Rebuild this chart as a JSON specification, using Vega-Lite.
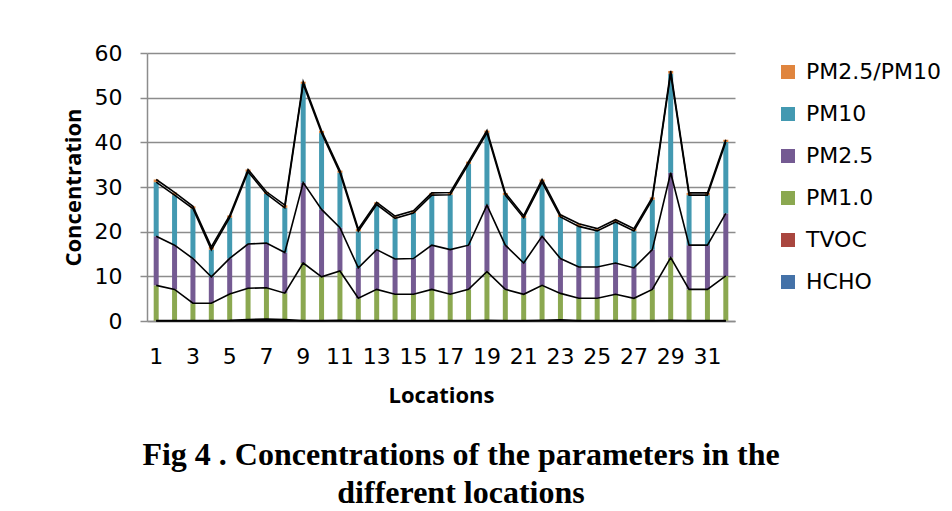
{
  "$schema": "https://vega.github.io/schema/vega-lite/v6.json",
  "width": 588,
  "height": 268,
  "autosize": {"type": "none"},
  "padding": {"left": 147, "top": 53, "right": 217, "bottom": 190},
  "background": "white",
  "title": {
    "text": ["Fig 4 . Concentrations of the parameters in the", "different locations"],
    "orient": "bottom", "anchor": "middle", "font": "Liberation Serif", "fontSize": 32,
    "fontWeight": "bold", "lineHeight": 38, "offset": 34, "dx": 20, "color": "#000000"
  },
  "datasets": {
    "order": [
      {"series": "HCHO", "k": 0}, {"series": "TVOC", "k": 1}, {"series": "PM1.0", "k": 2},
      {"series": "PM2.5", "k": 3}, {"series": "PM10", "k": 4}, {"series": "PM2.5/PM10", "k": 5}
    ]
  },
  "data": {"values": [
    {"loc":1,"series":"HCHO","value":0.03},{"loc":1,"series":"TVOC","value":0.05},{"loc":1,"series":"PM1.0","value":7.9},{"loc":1,"series":"PM2.5","value":11},{"loc":1,"series":"PM10","value":12.1},{"loc":1,"series":"PM2.5/PM10","value":0.6},
    {"loc":2,"series":"HCHO","value":0.03},{"loc":2,"series":"TVOC","value":0.05},{"loc":2,"series":"PM1.0","value":7.0},{"loc":2,"series":"PM2.5","value":9.9},{"loc":2,"series":"PM10","value":11.2},{"loc":2,"series":"PM2.5/PM10","value":0.6},
    {"loc":3,"series":"HCHO","value":0.03},{"loc":3,"series":"TVOC","value":0.05},{"loc":3,"series":"PM1.0","value":3.9},{"loc":3,"series":"PM2.5","value":10},{"loc":3,"series":"PM10","value":11.2},{"loc":3,"series":"PM2.5/PM10","value":0.5},
    {"loc":4,"series":"HCHO","value":0.03},{"loc":4,"series":"TVOC","value":0.05},{"loc":4,"series":"PM1.0","value":3.9},{"loc":4,"series":"PM2.5","value":5.9},{"loc":4,"series":"PM10","value":6.1},{"loc":4,"series":"PM2.5/PM10","value":0.6},
    {"loc":5,"series":"HCHO","value":0.03},{"loc":5,"series":"TVOC","value":0.1},{"loc":5,"series":"PM1.0","value":5.9},{"loc":5,"series":"PM2.5","value":8},{"loc":5,"series":"PM10","value":9.1},{"loc":5,"series":"PM2.5/PM10","value":0.5},
    {"loc":6,"series":"HCHO","value":0.03},{"loc":6,"series":"TVOC","value":0.3},{"loc":6,"series":"PM1.0","value":7.0},{"loc":6,"series":"PM2.5","value":9.9},{"loc":6,"series":"PM10","value":16.2},{"loc":6,"series":"PM2.5/PM10","value":0.5},
    {"loc":7,"series":"HCHO","value":0.03},{"loc":7,"series":"TVOC","value":0.4},{"loc":7,"series":"PM1.0","value":7.0},{"loc":7,"series":"PM2.5","value":10},{"loc":7,"series":"PM10","value":11},{"loc":7,"series":"PM2.5/PM10","value":0.5},
    {"loc":8,"series":"HCHO","value":0.03},{"loc":8,"series":"TVOC","value":0.3},{"loc":8,"series":"PM1.0","value":5.9},{"loc":8,"series":"PM2.5","value":9.1},{"loc":8,"series":"PM10","value":10},{"loc":8,"series":"PM2.5/PM10","value":0.6},
    {"loc":9,"series":"HCHO","value":0.03},{"loc":9,"series":"TVOC","value":0.05},{"loc":9,"series":"PM1.0","value":12.9},{"loc":9,"series":"PM2.5","value":18},{"loc":9,"series":"PM10","value":22.1},{"loc":9,"series":"PM2.5/PM10","value":0.5},
    {"loc":10,"series":"HCHO","value":0.03},{"loc":10,"series":"TVOC","value":0.05},{"loc":10,"series":"PM1.0","value":9.8},{"loc":10,"series":"PM2.5","value":15.1},{"loc":10,"series":"PM10","value":17.1},{"loc":10,"series":"PM2.5/PM10","value":0.5},
    {"loc":11,"series":"HCHO","value":0.03},{"loc":11,"series":"TVOC","value":0.15},{"loc":11,"series":"PM1.0","value":11.0},{"loc":11,"series":"PM2.5","value":9.7},{"loc":11,"series":"PM10","value":12.3},{"loc":11,"series":"PM2.5/PM10","value":0.5},
    {"loc":12,"series":"HCHO","value":0.03},{"loc":12,"series":"TVOC","value":0.05},{"loc":12,"series":"PM1.0","value":5.0},{"loc":12,"series":"PM2.5","value":6.8},{"loc":12,"series":"PM10","value":8.2},{"loc":12,"series":"PM2.5/PM10","value":0.5},
    {"loc":13,"series":"HCHO","value":0.03},{"loc":13,"series":"TVOC","value":0.05},{"loc":13,"series":"PM1.0","value":7.0},{"loc":13,"series":"PM2.5","value":8.9},{"loc":13,"series":"PM10","value":10.1},{"loc":13,"series":"PM2.5/PM10","value":0.5},
    {"loc":14,"series":"HCHO","value":0.03},{"loc":14,"series":"TVOC","value":0.05},{"loc":14,"series":"PM1.0","value":5.9},{"loc":14,"series":"PM2.5","value":7.9},{"loc":14,"series":"PM10","value":9.1},{"loc":14,"series":"PM2.5/PM10","value":0.5},
    {"loc":15,"series":"HCHO","value":0.03},{"loc":15,"series":"TVOC","value":0.05},{"loc":15,"series":"PM1.0","value":5.9},{"loc":15,"series":"PM2.5","value":8},{"loc":15,"series":"PM10","value":10.2},{"loc":15,"series":"PM2.5/PM10","value":0.5},
    {"loc":16,"series":"HCHO","value":0.03},{"loc":16,"series":"TVOC","value":0.05},{"loc":16,"series":"PM1.0","value":7.0},{"loc":16,"series":"PM2.5","value":9.9},{"loc":16,"series":"PM10","value":11.2},{"loc":16,"series":"PM2.5/PM10","value":0.5},
    {"loc":17,"series":"HCHO","value":0.03},{"loc":17,"series":"TVOC","value":0.05},{"loc":17,"series":"PM1.0","value":5.9},{"loc":17,"series":"PM2.5","value":10},{"loc":17,"series":"PM10","value":12.3},{"loc":17,"series":"PM2.5/PM10","value":0.5},
    {"loc":18,"series":"HCHO","value":0.03},{"loc":18,"series":"TVOC","value":0.05},{"loc":18,"series":"PM1.0","value":7.0},{"loc":18,"series":"PM2.5","value":9.9},{"loc":18,"series":"PM10","value":18.2},{"loc":18,"series":"PM2.5/PM10","value":0.5},
    {"loc":19,"series":"HCHO","value":0.03},{"loc":19,"series":"TVOC","value":0.1},{"loc":19,"series":"PM1.0","value":10.9},{"loc":19,"series":"PM2.5","value":14.9},{"loc":19,"series":"PM10","value":16.2},{"loc":19,"series":"PM2.5/PM10","value":0.5},
    {"loc":20,"series":"HCHO","value":0.03},{"loc":20,"series":"TVOC","value":0.05},{"loc":20,"series":"PM1.0","value":7.0},{"loc":20,"series":"PM2.5","value":9.9},{"loc":20,"series":"PM10","value":11.2},{"loc":20,"series":"PM2.5/PM10","value":0.5},
    {"loc":21,"series":"HCHO","value":0.03},{"loc":21,"series":"TVOC","value":0.05},{"loc":21,"series":"PM1.0","value":5.9},{"loc":21,"series":"PM2.5","value":7},{"loc":21,"series":"PM10","value":10.1},{"loc":21,"series":"PM2.5/PM10","value":0.5},
    {"loc":22,"series":"HCHO","value":0.03},{"loc":22,"series":"TVOC","value":0.15},{"loc":22,"series":"PM1.0","value":7.8},{"loc":22,"series":"PM2.5","value":11},{"loc":22,"series":"PM10","value":12.1},{"loc":22,"series":"PM2.5/PM10","value":0.6},
    {"loc":23,"series":"HCHO","value":0.03},{"loc":23,"series":"TVOC","value":0.25},{"loc":23,"series":"PM1.0","value":5.9},{"loc":23,"series":"PM2.5","value":7.8},{"loc":23,"series":"PM10","value":9.3},{"loc":23,"series":"PM2.5/PM10","value":0.5},
    {"loc":24,"series":"HCHO","value":0.03},{"loc":24,"series":"TVOC","value":0.05},{"loc":24,"series":"PM1.0","value":5.0},{"loc":24,"series":"PM2.5","value":7},{"loc":24,"series":"PM10","value":9.1},{"loc":24,"series":"PM2.5/PM10","value":0.6},
    {"loc":25,"series":"HCHO","value":0.03},{"loc":25,"series":"TVOC","value":0.05},{"loc":25,"series":"PM1.0","value":5.0},{"loc":25,"series":"PM2.5","value":7},{"loc":25,"series":"PM10","value":8.1},{"loc":25,"series":"PM2.5/PM10","value":0.5},
    {"loc":26,"series":"HCHO","value":0.03},{"loc":26,"series":"TVOC","value":0.05},{"loc":26,"series":"PM1.0","value":5.9},{"loc":26,"series":"PM2.5","value":7},{"loc":26,"series":"PM10","value":9.2},{"loc":26,"series":"PM2.5/PM10","value":0.5},
    {"loc":27,"series":"HCHO","value":0.03},{"loc":27,"series":"TVOC","value":0.05},{"loc":27,"series":"PM1.0","value":5.0},{"loc":27,"series":"PM2.5","value":6.8},{"loc":27,"series":"PM10","value":8.3},{"loc":27,"series":"PM2.5/PM10","value":0.5},
    {"loc":28,"series":"HCHO","value":0.03},{"loc":28,"series":"TVOC","value":0.05},{"loc":28,"series":"PM1.0","value":7.0},{"loc":28,"series":"PM2.5","value":8.9},{"loc":28,"series":"PM10","value":11.2},{"loc":28,"series":"PM2.5/PM10","value":0.5},
    {"loc":29,"series":"HCHO","value":0.03},{"loc":29,"series":"TVOC","value":0.15},{"loc":29,"series":"PM1.0","value":14.0},{"loc":29,"series":"PM2.5","value":19},{"loc":29,"series":"PM10","value":22.2},{"loc":29,"series":"PM2.5/PM10","value":0.6},
    {"loc":30,"series":"HCHO","value":0.03},{"loc":30,"series":"TVOC","value":0.05},{"loc":30,"series":"PM1.0","value":7.0},{"loc":30,"series":"PM2.5","value":9.9},{"loc":30,"series":"PM10","value":11.2},{"loc":30,"series":"PM2.5/PM10","value":0.5},
    {"loc":31,"series":"HCHO","value":0.03},{"loc":31,"series":"TVOC","value":0.05},{"loc":31,"series":"PM1.0","value":7.0},{"loc":31,"series":"PM2.5","value":9.9},{"loc":31,"series":"PM10","value":11.2},{"loc":31,"series":"PM2.5/PM10","value":0.5},
    {"loc":32,"series":"HCHO","value":0.03},{"loc":32,"series":"TVOC","value":0.05},{"loc":32,"series":"PM1.0","value":10.0},{"loc":32,"series":"PM2.5","value":14},{"loc":32,"series":"PM10","value":16},{"loc":32,"series":"PM2.5/PM10","value":0.5}
  ]},
  "transform": [
    {"lookup": "series", "from": {"data": {"name": "order"}, "key": "series", "fields": ["k"]}}
  ],
  "encoding": {
    "x": {
      "field": "loc", "type": "ordinal", "title": "Locations",
      "scale": {"paddingInner": 0, "paddingOuter": 0},
      "axis": {"values": [1,3,5,7,9,11,13,15,17,19,21,23,25,27,29,31], "labelAngle": 0}
    }
  },
  "layer": [
    {
      "mark": {"type": "bar", "size": 5},
      "encoding": {
        "y": {"field": "value", "type": "quantitative", "stack": "zero", "title": "Concentration",
              "scale": {"domain": [0, 60]}, "axis": {"values": [0,10,20,30,40,50,60]}},
        "order": {"field": "k", "type": "quantitative", "sort": "ascending"},
        "color": {
          "field": "series", "type": "nominal",
          "scale": {
            "domain": ["PM2.5/PM10", "PM10", "PM2.5", "PM1.0", "TVOC", "HCHO"],
            "range": ["#E0853E", "#4399B1", "#745A92", "#8BA850", "#A9463F", "#4472A8"]
          },
          "legend": {"title": null}
        }
      }
    },
    {
      "transform": [
        {"window": [{"op": "sum", "field": "value", "as": "cum"}], "groupby": ["loc"],
         "sort": [{"field": "k", "order": "ascending"}], "frame": [null, 0]}
      ],
      "mark": {"type": "line", "color": "#000000", "strokeWidth": 1.6},
      "encoding": {
        "y": {"field": "cum", "type": "quantitative", "stack": null, "title": "Concentration"},
        "detail": {"field": "series", "type": "nominal"}
      }
    }
  ],
  "config": {
    "view": {"stroke": null},
    "axis": {
      "labelFont": "DejaVu Sans", "labelFontSize": 22, "labelColor": "#000000",
      "titleFont": "Open Sans", "titleFontSize": 22, "titleFontWeight": "bold", "titleColor": "#000000",
      "domainColor": "#8c8c8c", "domainWidth": 1.5, "gridColor": "#8c8c8c", "gridWidth": 1.5,
      "tickColor": "#8c8c8c", "tickWidth": 1.5
    },
    "axisX": {"grid": false, "ticks": false, "labelPadding": 25, "titlePadding": 18},
    "axisY": {"tickSize": 7, "labelPadding": 18, "titlePadding": 9},
    "legend": {
      "orient": "right", "offset": 34, "padding": 8,
      "labelFont": "DejaVu Sans", "labelFontSize": 22, "labelColor": "#000000",
      "symbolType": "square", "symbolSize": 196, "symbolStrokeWidth": 0,
      "rowPadding": 20, "labelOffset": 7, "labelLimit": 300
    }
  }
}
